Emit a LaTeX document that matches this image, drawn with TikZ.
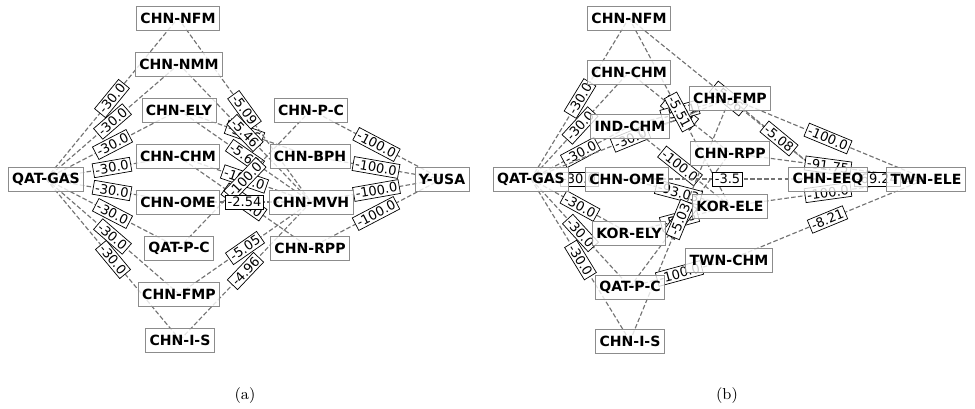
\documentclass[tikz,border=0pt]{standalone}
\usepackage{fontspec}
\newfontfamily\djv{DejaVu Sans}
\usetikzlibrary{backgrounds}

\begin{document}
\begin{tikzpicture}[x=0.2mm, y=-0.2mm,
    box/.style={draw=black!45, fill=white, fill opacity=0.8, text opacity=1, inner xsep=2.2pt, inner ysep=0pt, minimum height=13.5pt, font=\djv\bfseries\fontsize{8}{10}\selectfont},
    lnk/.style={draw=black!55, dash pattern=on 2.6pt off 1.3pt, line width=0.65pt},
    lbl/.style={draw=black, solid, line width=0.4pt, fill=white, inner sep=1.2pt, sloped, font=\djv\fontsize{7.4}{8}\selectfont},
    subcap/.style={font=\small}
]
\useasboundingbox (0,0) rectangle (975,409);

% (a)
\node[box] (gasA) at (46,179) {QAT-GAS};
\node[box] (nfmA) at (178,18) {CHN-NFM};
\node[box] (nmmA) at (179,64) {CHN-NMM};
\node[box] (elyA) at (179,110) {CHN-ELY};
\node[box] (chmA) at (178,156) {CHN-CHM};
\node[box] (omeA) at (178,202) {CHN-OME};
\node[box] (qpcA) at (179,248) {QAT-P-C};
\node[box] (fmpA) at (179,294) {CHN-FMP};
\node[box] (isA) at (180,340) {CHN-I-S};
\node[box] (pcA) at (311,110) {CHN-P-C};
\node[box] (bphA) at (310,156) {CHN-BPH};
\node[box] (mvhA) at (311,202) {CHN-MVH};
\node[box] (rppA) at (310,248) {CHN-RPP};
\node[box] (usaA) at (442,179) {Y-USA};
\node[subcap] (capA) at (245,396) {(a)};

% (b)
\node[box] (gasB) at (531,179) {QAT-GAS};
\node[box] (nfmB) at (629,18) {CHN-NFM};
\node[box] (chmB) at (629,72) {CHN-CHM};
\node[box] (indB) at (630,126) {IND-CHM};
\node[box] (omeB) at (627,179) {CHN-OME};
\node[box] (kelyB) at (629,233) {KOR-ELY};
\node[box] (qpcB) at (630,287) {QAT-P-C};
\node[box] (isB) at (630,341) {CHN-I-S};
\node[box] (fmpB) at (730,98) {CHN-FMP};
\node[box] (rppB) at (730,153) {CHN-RPP};
\node[box] (keleB) at (730,206) {KOR-ELE};
\node[box] (tchmB) at (729,260) {TWN-CHM};
\node[box] (eeqB) at (828,179) {CHN-EEQ};
\node[box] (teleB) at (926,179) {TWN-ELE};
\node[subcap] (capB) at (727,396) {(b)};

\begin{scope}[on background layer]
% (a) edges
\draw[lnk] (elyA.center) -- node[lbl] {-5.46} (bphA.center);
\draw[lnk] (chmA.center) -- node[lbl] {-100.0} (mvhA.center);
\draw[lnk] (chmA.center) -- node[lbl] {-100.0} (rppA.center);
\foreach \n in {nfmA,nmmA,elyA,chmA,omeA,qpcA,fmpA,isA}
  \draw[lnk] (gasA.center) -- node[lbl] {-30.0} (\n.center);
\draw[lnk] (nfmA.center) -- node[lbl] {-5.09} (mvhA.center);
\draw[lnk] (nmmA.center) -- node[lbl] {-5.46} (mvhA.center);
\draw[lnk] (elyA.center) -- node[lbl] {-5.62} (mvhA.center);
\draw[lnk] (qpcA.center) -- node[lbl] {-100.0} (pcA.center);
\draw[lnk] (omeA.center) -- node[lbl] {-2.54} (mvhA.center);
\draw[lnk] (fmpA.center) -- node[lbl] {-5.05} (mvhA.center);
\draw[lnk] (isA.center) -- node[lbl] {-4.96} (mvhA.center);
\foreach \n in {pcA,bphA,mvhA,rppA}
  \draw[lnk] (\n.center) -- node[lbl] {-100.0} (usaA.center);

% (b) edges
\draw[lnk] (chmB.center) -- node[lbl] {-5.51} (rppB.center);
\draw[lnk] (indB.center) -- node[lbl] {-5.51} (fmpB.center);
\draw[lnk] (nfmB.center) -- node[lbl] {-5.06} (eeqB.center);
\draw[lnk] (kelyB.center) -- node[lbl] {-5.03} (keleB.center);
\draw[lnk] (qpcB.center) -- node[lbl] {-4.96} (rppB.center);
\foreach \n in {nfmB,chmB,indB,omeB,kelyB,qpcB,isB,fmpB}
  \draw[lnk] (gasB.center) -- node[lbl] {-30.0} (\n.center);
\draw[lnk] (nfmB.center) -- node[lbl] {-5.51} (keleB.center);
\draw[lnk] (indB.center) -- node[lbl] {-100.0} (keleB.center);
\draw[lnk] (omeB.center) -- node[lbl] {-93.03} (keleB.center);
\draw[lnk] (omeB.center) -- node[lbl] {-3.5} (eeqB.center);
\draw[lnk] (isB.center) -- node[lbl] {-5.03} (fmpB.center);
\draw[lnk] (qpcB.center) -- node[lbl] {-100.0} (tchmB.center);
\draw[lnk] (fmpB.center) -- node[lbl] {-5.08} (eeqB.center);
\draw[lnk] (fmpB.center) -- node[lbl] {-100.0} (teleB.center);
\draw[lnk] (rppB.center) -- node[lbl] {-91.75} (teleB.center);
\draw[lnk] (keleB.center) -- node[lbl] {-100.0} (teleB.center);
\draw[lnk] (eeqB.center) -- node[lbl] {-69.24} (teleB.center);
\draw[lnk] (tchmB.center) -- node[lbl] {-8.21} (teleB.center);
\end{scope}
\end{tikzpicture}
\end{document}
